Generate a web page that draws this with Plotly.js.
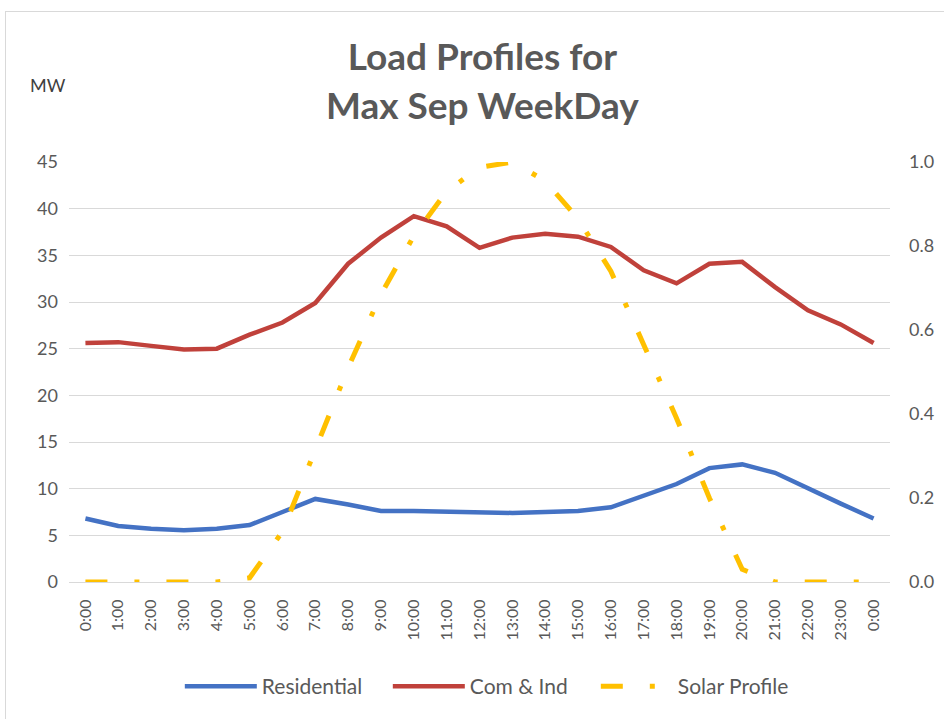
<!DOCTYPE html>
<html>
<head>
<meta charset="utf-8">
<script src="https://cdn.plot.ly/plotly-3.0.1.min.js"></script>
<style>
  html, body { margin: 0; padding: 0; background: #ffffff; }
  #frame { position: absolute; left: 5px; top: 11px; width: 960px; height: 740px; border: 1px solid #d9d9d9; }
  #chart { position: absolute; left: 0; top: 0; width: 944px; height: 719px; }
</style>
</head>
<body>
<div id="frame"></div>
<div id="chart"></div>
<script>
const categories = ["0:00","1:00","2:00","3:00","4:00","5:00","6:00","7:00","8:00","9:00","10:00","11:00","12:00","13:00","14:00","15:00","16:00","17:00","18:00","19:00","20:00","21:00","22:00","23:00","0:00"];
const residential = [6.8, 6.0, 5.7, 5.55, 5.7, 6.1, 7.5, 8.9, 8.3, 7.6, 7.6, 7.5, 7.5, 7.4, 7.5, 7.6, 8.0, 9.2, 10.5, 12.2, 12.6, 11.7, 10.0, 8.4, 6.8];
const comInd = [25.6, 25.7, 25.3, 24.9, 25.0, 26.5, 27.8, 29.9, 34.1, 36.9, 39.2, 38.1, 35.8, 36.9, 37.3, 37.0, 35.9, 33.4, 32.0, 34.1, 34.3, 31.6, 29.1, 27.6, 25.6];
const solar = [0, 0, 0, 0, 0, 0.01, 0.12, 0.315, 0.51, 0.685, 0.824, 0.93, 0.987, 1.0, 0.955, 0.865, 0.74, 0.565, 0.39, 0.20, 0.03, 0, 0, 0, 0];

const xIdx = categories.map((c, i) => i);
const grey = '#595959';
const fontFam = 'Lato, "Open Sans", sans-serif';

const traces = [
  { x: xIdx, y: residential, name: 'Residential', type: 'scatter', mode: 'lines',
    line: { color: '#4472C4', width: 4.5 }, yaxis: 'y' },
  { x: xIdx, y: comInd, name: 'Com & Ind', type: 'scatter', mode: 'lines',
    line: { color: '#C0413B', width: 4.5 }, yaxis: 'y' },
  { x: xIdx, y: solar, name: 'Solar Profile', type: 'scatter', mode: 'lines',
    line: { color: '#FFC000', width: 5, dash: '22px,27px,5px,27px' }, yaxis: 'y2' }
];

const layout = {
  width: 944, height: 719,
  margin: { l: 69, r: 54, t: 162, b: 137 },
  paper_bgcolor: 'rgba(0,0,0,0)',
  plot_bgcolor: 'rgba(0,0,0,0)',
  font: { family: fontFam, color: grey, size: 16 },
  title: { text: 'Load Profiles for<br>Max Sep WeekDay', x: 0.511, xanchor: 'center',
    yref: 'container', y: 0.902, yanchor: 'top',
    font: { family: fontFam, size: 37, color: grey, weight: 'bold' } },
  showlegend: true,
  legend: { orientation: 'h', x: 0.515, xanchor: 'center', yref: 'container', y: 0.045, yanchor: 'middle',
    font: { size: 21, color: grey }, itemwidth: 72, entrywidth: 121, entrywidthmode: 'pixels', traceorder: 'normal' },
  xaxis: {
    range: [-0.5, 24.5], tickvals: xIdx, ticktext: categories, tickangle: -90, automargin: false,
    showgrid: false, zeroline: false, showline: true, linecolor: '#d9d9d9', linewidth: 1,
    ticks: '', ticklabelstandoff: 10, tickfont: { size: 16, color: grey }, fixedrange: true
  },
  yaxis: {
    range: [0, 45], dtick: 5, showgrid: true, gridcolor: '#d9d9d9', gridwidth: 1, automargin: false,
    zeroline: false, showline: false, ticks: '', ticklabelstandoff: 10,
    tickfont: { size: 18, color: grey }
  },
  yaxis2: {
    range: [0, 1], dtick: 0.2, tickformat: '.1f', overlaying: 'y', side: 'right', automargin: false,
    showgrid: false, zeroline: false, showline: false, ticks: '', ticklabelstandoff: 18,
    tickfont: { size: 18, color: grey }
  },
  annotations: [
    { text: 'MW', xref: 'paper', yref: 'paper', x: -0.05, y: (582 - 85) / 420, xanchor: 'left', yanchor: 'middle',
      showarrow: false, font: { size: 18, color: '#404040' } }
  ]
};

Plotly.newPlot('chart', traces, layout, { displayModeBar: false, staticPlot: true });
</script>
</body>
</html>
